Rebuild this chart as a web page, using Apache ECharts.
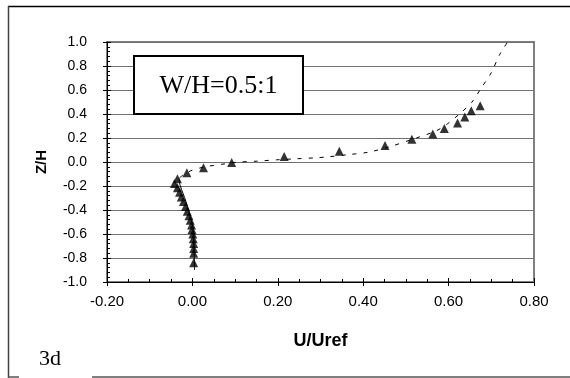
<!DOCTYPE html>
<html>
<head>
<meta charset="utf-8">
<script src="https://cdn.jsdelivr.net/npm/echarts@6/dist/echarts.min.js"></script>
<style>
    html, body {margin: 0; padding: 0; background: #fff;}
    #chart {width: 570px; height: 378px;}
</style>
</head>
<body>
<div id="chart"></div>
<script>
// measured points (U/Uref, Z/H)
const measU = [0.674, 0.653, 0.638, 0.621, 0.590, 0.563, 0.514, 0.451, 0.344, 0.215, 0.092, 0.026,
    -0.013, -0.035, -0.042, -0.035, -0.030, -0.026, -0.021, -0.016, -0.012, -0.008, -0.005, -0.002,
    -0.001, 0.001, 0.002, 0.003, 0.003, 0.003, 0.003];
const measZ = [0.469, 0.427, 0.375, 0.325, 0.280, 0.234, 0.190, 0.137, 0.090, 0.046, -0.004, -0.048,
    -0.090, -0.140, -0.180, -0.214, -0.253, -0.292, -0.330, -0.370, -0.410, -0.447, -0.486, -0.524,
    -0.563, -0.600, -0.640, -0.680, -0.720, -0.760, -0.840];

// dashed curve (upper part)
const upperU = [-0.030, -0.005, 0.030, 0.077, 0.104, 0.151, 0.197, 0.244, 0.289, 0.317, 0.367, 0.411,
    0.458, 0.525, 0.572, 0.598, 0.626, 0.654, 0.677, 0.700, 0.720, 0.741];
const upperZ = [-0.130, -0.075, -0.040, -0.015, -0.002, 0.007, 0.018, 0.027, 0.035, 0.043, 0.062, 0.081,
    0.123, 0.201, 0.261, 0.320, 0.402, 0.496, 0.620, 0.745, 0.898, 1.014];

// solid curve (lower part)
const lowerU = [-0.031, -0.029, -0.022, -0.015, -0.009, -0.004, 0.001, 0.003, 0.005];
const lowerZ = [-0.138, -0.192, -0.261, -0.330, -0.400, -0.469, -0.538, -0.607, -0.900];

const zip = (a, b) => a.map((v, i) => [v, b[i]]);

const chart = echarts.init(document.getElementById("chart"));

const xCommon = {
    type: "value",
    min: -0.2,
    max: 0.8,
    interval: 0.2,
    position: "bottom",
    splitLine: {show: false}
};

chart.setOption({
    animation: false,
    grid: {left: 107, right: 36, top: 42, bottom: 96, show: true, borderColor: "#808080", borderWidth: 2},
    xAxis: [
        Object.assign({}, xCommon, {
            name: "U/Uref",
            nameLocation: "middle",
            nameGap: 50,
            nameTextStyle: {fontFamily: "Liberation Sans", fontWeight: "bold", fontSize: 18, color: "#000"},
            axisLine: {onZero: false, lineStyle: {color: "#000", width: 1}},
            axisTick: {inside: false, length: 4, lineStyle: {color: "#000"}},
            axisLabel: {
                margin: 12,
                fontFamily: "Liberation Sans",
                fontSize: 15,
                color: "#000",
                formatter: v => v.toFixed(2)
            }
        }),
        Object.assign({}, xCommon, {
            axisLine: {show: false, onZero: false},
            axisLabel: {show: false},
            axisTick: {inside: true, length: 4, lineStyle: {color: "#000"}},
            minorTick: {show: true, splitNumber: 4, length: 3, lineStyle: {color: "#000"}}
        })
    ],
    yAxis: [
        {
            type: "value",
            min: -1,
            max: 1,
            interval: 0.2,
            name: "Z/H",
            nameLocation: "middle",
            nameGap: 58,
            nameTextStyle: {fontFamily: "Liberation Sans", fontWeight: "bold", fontSize: 15, color: "#000"},
            axisLine: {show: true, onZero: false, lineStyle: {color: "#000", width: 1}},
            axisTick: {show: true, inside: false, length: 4, lineStyle: {color: "#000"}},
            axisLabel: {
                margin: 20,
                fontFamily: "Liberation Sans",
                fontSize: 14,
                color: "#000",
                formatter: v => v.toFixed(1)
            },
            splitLine: {lineStyle: {color: "#707070", width: 1}}
        },
        {
            type: "value",
            min: -1,
            max: 1,
            interval: 0.2,
            position: "left",
            axisLine: {show: false, onZero: false},
            axisLabel: {show: false},
            axisTick: {show: true, inside: true, length: 4, lineStyle: {color: "#000"}},
            minorTick: {show: true, splitNumber: 5, length: 3, lineStyle: {color: "#000"}},
            splitLine: {show: false}
        }
    ],
    graphic: [
        {type: "line", shape: {x1: 8, y1: 6.5, x2: 570, y2: 6.5}, style: {stroke: "#000", lineWidth: 1.5}},
        {type: "line", shape: {x1: 8.5, y1: 6, x2: 8.5, y2: 378}, style: {stroke: "#444", lineWidth: 1.5}},
        {type: "line", shape: {x1: 8, y1: 377, x2: 19, y2: 377}, style: {stroke: "#555", lineWidth: 1.5}},
        {type: "line", shape: {x1: 92, y1: 377, x2: 570, y2: 377}, style: {stroke: "#555", lineWidth: 1.5}},
        {
            type: "rect", z: 100,
            shape: {x: 134, y: 56, width: 169, height: 58},
            style: {fill: "#fff", stroke: "#000", lineWidth: 2}
        },
        {
            type: "text", z: 101, x: 218.5, y: 86,
            style: {
                text: "W/H=0.5:1", font: "26px 'Liberation Serif'", fill: "#000",
                align: "center", verticalAlign: "middle"
            }
        },
        {
            type: "text", z: 101, x: 39, y: 359,
            style: {
                text: "3d", font: "22px 'Liberation Serif'", fill: "#000",
                align: "left", verticalAlign: "middle"
            }
        }
    ],
    series: [
        {
            type: "line",
            data: zip(upperU, upperZ),
            smooth: 0.3,
            clip: false,
            showSymbol: false,
            lineStyle: {color: "#000", width: 1, type: [4, 7]},
            z: 2
        },
        {
            type: "line",
            data: zip(lowerU, lowerZ),
            smooth: 0.3,
            showSymbol: false,
            lineStyle: {color: "#000", width: 1},
            z: 2
        },
        {
            type: "scatter",
            data: zip(measU, measZ),
            symbol: "triangle",
            symbolSize: 9,
            itemStyle: {color: "#000"},
            z: 3
        }
    ]
});
</script>
</body>
</html>
